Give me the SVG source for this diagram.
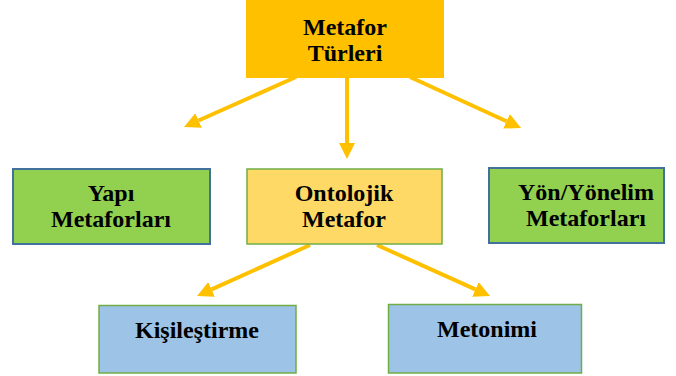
<svg xmlns="http://www.w3.org/2000/svg" width="676" height="376" viewBox="0 0 676 376">
<defs>
<style>
.t{font-family:"Liberation Serif","DejaVu Serif",serif;font-weight:bold;font-size:24px;fill:#000;text-anchor:middle}
.c{stroke:#FFC000;stroke-width:4;fill:none}
</style>
<marker id="ah" markerUnits="userSpaceOnUse" markerWidth="16" markerHeight="16" refX="0" refY="8" orient="auto" viewBox="0 0 16 16">
<path d="M0,0 L16,8 L0,16 z" fill="#FFC000"/>
</marker>
</defs>
<rect width="676" height="376" fill="#fff"/>
<g id="connectors">
<line class="c" x1="347" y1="78" x2="347" y2="143" marker-end="url(#ah)"/>
<line class="c" x1="296" y1="77" x2="198.6" y2="120.5" marker-end="url(#ah)"/>
<line class="c" x1="410" y1="77" x2="506.5" y2="121.3" marker-end="url(#ah)"/>
<line class="c" x1="310" y1="245" x2="211.6" y2="289.4" marker-end="url(#ah)"/>
<line class="c" x1="377" y1="245" x2="475.4" y2="289.4" marker-end="url(#ah)"/>
</g>
<g id="metafor-turleri">
<rect x="246" y="0" width="198" height="78" fill="#FFC000"/>
<text class="t" x="345" y="35">Metafor</text>
<text class="t" x="345" y="61">Türleri</text>
</g>
<g id="yapi">
<rect x="13" y="169" width="197" height="75" fill="#92D050" stroke="#41719C" stroke-width="2"/>
<text class="t" x="111" y="201">Yapı</text>
<text class="t" x="111" y="227">Metaforları</text>
</g>
<g id="ontolojik">
<rect x="247" y="169" width="195" height="75" fill="#FFD966" stroke="#70AD47" stroke-width="1.5"/>
<text class="t" x="344" y="201">Ontolojik</text>
<text class="t" x="344" y="227">Metafor</text>
</g>
<g id="yon">
<rect x="489" y="168" width="175" height="75" fill="#92D050" stroke="#41719C" stroke-width="2"/>
<text class="t" x="586" y="200">Yön/Yönelim</text>
<text class="t" x="586" y="226">Metaforları</text>
</g>
<g id="kisilestirme">
<rect x="99" y="305.5" width="197" height="67.5" fill="#9DC3E6" stroke="#70AD47" stroke-width="1.5"/>
<text class="t" x="197" y="338">Kişileştirme</text>
</g>
<g id="metonimi">
<rect x="388.5" y="304.5" width="193" height="68.5" fill="#9DC3E6" stroke="#70AD47" stroke-width="1.5"/>
<text class="t" x="487" y="337">Metonimi</text>
</g>
</svg>
